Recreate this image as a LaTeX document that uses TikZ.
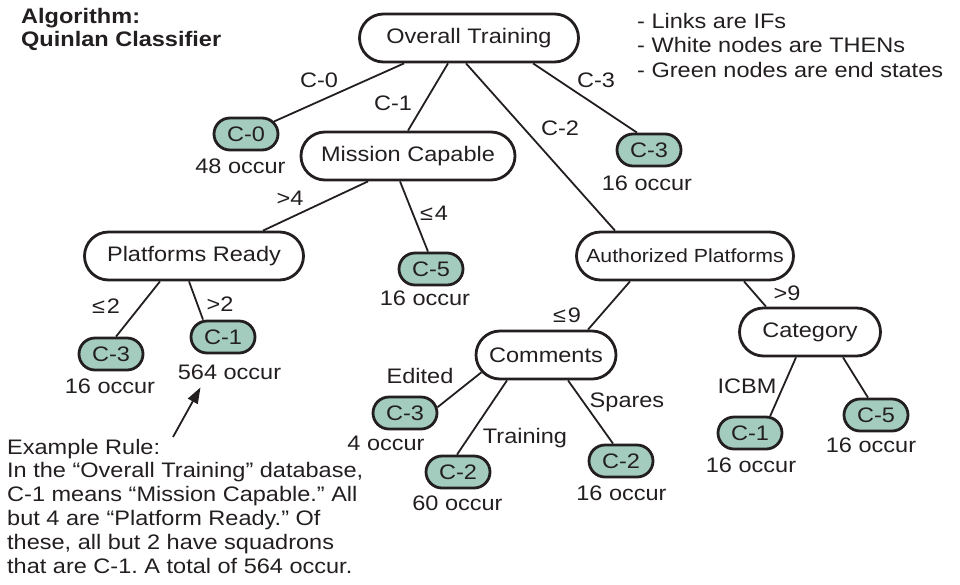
\documentclass[tikz,border=0pt]{standalone}
\usepackage{fontspec}
\setmainfont{Liberation Sans}[FakeStretch=1.12]
\usetikzlibrary{shapes.misc,arrows.meta}
\definecolor{ink}{HTML}{231F20}
\definecolor{endgreen}{HTML}{A3CCBF}
\frenchspacing

\begin{document}
\begin{tikzpicture}[x=1pt,y=1pt,
    every node/.style={inner sep=0pt,text=ink,font=\fontsize{21}{24}\selectfont},
    thenbox/.style={rounded rectangle,draw=ink,line width=2.8pt,fill=white,minimum height=48pt},
    endbox/.style={rounded rectangle,draw=ink,line width=2.8pt,fill=endgreen,minimum width=64pt,minimum height=32pt},
    iflabel/.style={anchor=base},
    link/.style={draw=ink,line width=1.8pt}]
    \useasboundingbox (0,0) rectangle (960,-584);
    \node [anchor=north west,align=left,font=\bfseries\fontsize{21}{23}\selectfont] (title) at (21,-8.5) {Algorithm:\\Quinlan Classifier};
    \node [anchor=north west,align=left,font=\fontsize{21}{24.5}\selectfont] (key) at (637,-12.7) {- Links are IFs\\- White nodes are THENs\\- Green nodes are end states};
    \node [thenbox,minimum width=219pt] (ot) at (469,-38) {Overall Training};
    \node [thenbox,minimum width=214pt] (mc) at (408,-156) {Mission Capable};
    \node [thenbox,minimum width=219pt] (pr) at (194,-256) {Platforms Ready};
    \node [thenbox,minimum width=217pt,font=\fontsize{19}{22}\selectfont] (ap) at (685,-256) {Authorized Platforms};
    \node [thenbox,minimum width=141pt] (cat) at (810,-332) {Category};
    \node [thenbox,minimum width=140pt] (cm) at (546,-355) {Comments};
    \node [endbox] (c0) at (246,-134) {C-0};
    \node [endbox] (c3a) at (649,-150) {C-3};
    \node [endbox] (c5a) at (431,-269) {C-5};
    \node [endbox] (c3b) at (111,-354) {C-3};
    \node [endbox] (c1a) at (223,-337) {C-1};
    \node [endbox] (c3c) at (405,-413) {C-3};
    \node [endbox] (c2a) at (458,-472) {C-2};
    \node [endbox] (c2b) at (621,-461) {C-2};
    \node [endbox] (c1b) at (750,-433) {C-1};
    \node [endbox] (c5b) at (876,-415) {C-5};
    \node [iflabel] (o-c0) at (240.5,-173) {48 occur};
    \node [iflabel] (o-c3a) at (647,-190) {16 occur};
    \node [iflabel] (o-c5a) at (425,-305) {16 occur};
    \node [iflabel] (o-c3b) at (110,-393) {16 occur};
    \node [iflabel] (o-c1a) at (229.5,-379) {564 occur};
    \node [iflabel] (o-c3c) at (386,-450) {4 occur};
    \node [iflabel] (o-c2a) at (457.5,-510) {60 occur};
    \node [iflabel] (o-c2b) at (621.5,-500) {16 occur};
    \node [iflabel] (o-c1b) at (751,-472) {16 occur};
    \node [iflabel] (o-c5b) at (871,-452) {16 occur};
    \draw [link] ([xshift=-65pt]ot.south) -- (c0);
    \draw [link] ([xshift=-21pt]ot.south) -- (mc.north);
    \draw [link] ([xshift=-3pt]ot.south) -- ([xshift=-70pt]ap.north);
    \draw [link] ([xshift=64pt]ot.south) -- ([xshift=-12pt]c3a.north);
    \draw [link] ([xshift=-40pt]mc.south) -- ([xshift=69pt]pr.north);
    \draw [link] ([xshift=-8pt]mc.south) -- ([xshift=-3pt]c5a.north);
    \draw [link] ([xshift=-34pt]pr.south) -- ([xshift=5pt]c3b.north);
    \draw [link] ([xshift=-5pt]pr.south) -- ([xshift=-20pt]c1a.north);
    \draw [link] ([xshift=-55pt]ap.south) -- ([xshift=42pt]cm.north);
    \draw [link] ([xshift=59pt]ap.south) -- ([xshift=-44pt]cat.north);
    \draw [link] (cm.195) -- (c3c.10);
    \draw [link] ([xshift=-39pt]cm.south) -- ([xshift=-1pt]c2a.north);
    \draw [link] ([xshift=22pt]cm.south) -- ([xshift=-8pt]c2b.north);
    \draw [link] ([xshift=-14pt]cat.south) -- (c1b.40);
    \draw [link] ([xshift=33pt]cat.south) -- ([xshift=-8pt]c5b.north);
    \node [iflabel] (l-c0) at (319,-87) {C-0};
    \node [iflabel] (l-c1) at (393,-110) {C-1};
    \node [iflabel] (l-c2) at (560,-135) {C-2};
    \node [iflabel] (l-c3) at (596,-87) {C-3};
    \node [iflabel] (l-gt4) at (290,-205) {>4};
    \node [iflabel] (l-le4) at (434,-220) {≤\kern2pt 4};
    \node [iflabel] (l-le2) at (106,-313) {≤\kern2pt 2};
    \node [iflabel] (l-gt2) at (220,-311) {>2};
    \node [iflabel] (l-le9) at (567,-322) {≤\kern2pt 9};
    \node [iflabel] (l-gt9) at (787,-300) {>9};
    \node [iflabel] (l-ed) at (420,-383) {Edited};
    \node [iflabel] (l-tr) at (525,-443) {Training};
    \node [iflabel] (l-sp) at (627,-407) {Spares};
    \node [iflabel] (l-ic) at (747,-393) {ICBM};
    \node [anchor=north west,align=left,font=\fontsize{21}{23.8}\selectfont] (rule) at (7,-438.7) {Example Rule:\\In the “Overall Training” database,\\C-1 means “Mission Capable.” All\\but 4 are “Platform Ready.” Of\\these, all but 2 have squadrons\\that are C-1. A total of 564 occur.};
    \coordinate (rulept) at (173,-437);
    \draw [link,-{Triangle[length=16pt,width=11pt]}] (rulept) -- ([shift={(-29pt,-8pt)}]o-c1a.south);
\end{tikzpicture}
\end{document}
